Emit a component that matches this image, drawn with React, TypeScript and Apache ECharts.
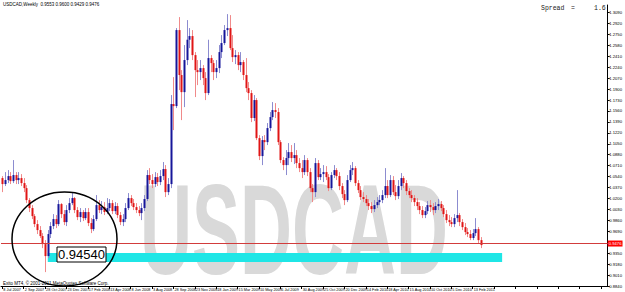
import React, { useEffect, useRef } from 'react';
import * as echarts from 'echarts';

const symbolName = 'USDCAD';
const timeframe = 'Weekly';
const firstOpen = 1.0517;
const closes = [
  1.0424, 1.0486, 1.0548, 1.0470, 1.0564, 1.0486, 1.0517, 1.0439, 1.0361, 1.0175,
  1.0051, 0.9926, 0.9802, 0.9709, 0.9616, 0.9491, 0.9305, 0.9647, 0.9771, 0.9880,
  0.9802, 1.0113, 0.9957, 0.9833, 1.0020, 1.0128, 1.0206, 1.0020, 0.9911, 0.9989,
  0.9895, 0.9989, 0.9818, 0.9724, 0.9880, 1.0097, 1.0020, 1.0066, 0.9989, 1.0051,
  1.0128, 1.0004, 1.0082, 0.9942, 0.9833, 0.9880, 1.0051, 1.0206, 1.0128, 1.0066,
  1.0020, 0.9973, 1.0051, 1.0191, 1.0564, 1.0486, 1.0424, 1.0532, 1.0455, 1.0548,
  1.0657, 1.0299, 1.0424, 1.1667, 1.1636, 1.2817, 1.2118, 1.1853, 1.2351, 1.2667,
  1.2724, 1.2428, 1.2195, 1.2164, 1.2226, 1.2071, 1.1838, 1.2382, 1.2304, 1.2164,
  1.2226, 1.2475, 1.2615, 1.2817, 1.2848, 1.2537, 1.2397, 1.2428, 1.2273, 1.2320,
  1.2118, 1.1915, 1.1838, 1.1450, 1.1729, 1.1138, 1.0859, 1.1107, 1.1076, 1.1294,
  1.1465, 1.1574, 1.1543, 1.1076, 1.0797, 1.0719, 1.0828, 1.0921, 1.0828, 1.0874,
  1.0750, 1.0672, 1.0610, 1.0797, 1.0610, 1.0361, 1.0299, 1.0750, 1.0532, 1.0579,
  1.0610, 1.0532, 1.0361, 1.0564, 1.0641, 1.0548, 1.0393, 1.0268, 1.0175, 1.0486,
  1.0641, 1.0672, 1.0439, 1.0330, 1.0222, 1.0191, 1.0128, 1.0082, 1.0035, 1.0097,
  1.0144, 1.0175, 1.0253, 1.0393, 1.0253, 1.0486, 1.0299, 1.0237, 1.0393, 1.0517,
  1.0439, 1.0315, 1.0253, 1.0206, 1.0144, 1.0082, 1.0020, 0.9942, 1.0004, 1.0097,
  1.0066, 1.0020, 1.0082, 1.0113, 1.0051, 0.9957, 0.9864, 0.9833, 0.9802, 0.9895,
  0.9942, 0.9833, 0.9755, 0.9678, 0.9647, 0.9585, 0.9662, 0.9724, 0.9553, 0.9476,
];
const highs = [
  1.0548, 1.0610, 1.0641, 1.0610, 1.0797, 1.0610, 1.0610, 1.0579, 1.0517, 1.0408,
  1.0206, 1.0097, 0.9957, 0.9864, 0.9771, 0.9662, 0.9553, 0.9709, 0.9833, 0.9957,
  0.9942, 1.0175, 1.0128, 1.0020, 1.0097, 1.0206, 1.0284, 1.0222, 1.0066, 1.0051,
  1.0020, 1.0051, 1.0051, 0.9895, 0.9942, 1.0253, 1.0175, 1.0160, 1.0144, 1.0206,
  1.0191, 1.0175, 1.0144, 1.0128, 0.9989, 0.9957, 1.0128, 1.0284, 1.0253, 1.0191,
  1.0128, 1.0082, 1.0128, 1.0253, 1.0641, 1.0672, 1.0579, 1.0610, 1.0595, 1.0641,
  1.0766, 1.0719, 1.0517, 1.1807, 1.2086, 1.2848, 1.3019, 1.2195, 1.2584, 1.2972,
  1.2848, 1.2817, 1.2475, 1.2351, 1.2351, 1.2273, 1.2164, 1.2667, 1.2428, 1.2351,
  1.2351, 1.2584, 1.2739, 1.2895, 1.3065, 1.3050, 1.2739, 1.2506, 1.2475, 1.2475,
  1.2351, 1.2382, 1.2009, 1.1884, 1.1807, 1.1760, 1.1185, 1.1170, 1.1185, 1.1372,
  1.1543, 1.1698, 1.1682, 1.1605, 1.1107, 1.0843, 1.0952, 1.1061, 1.1030, 1.1061,
  1.0952, 1.0828, 1.0797, 1.0874, 1.0828, 1.0672, 1.0424, 1.0828, 1.0797, 1.0672,
  1.0719, 1.0703, 1.0579, 1.0610, 1.0719, 1.0672, 1.0610, 1.0439, 1.0330, 1.0564,
  1.0719, 1.0766, 1.0703, 1.0486, 1.0393, 1.0299, 1.0253, 1.0191, 1.0144, 1.0175,
  1.0222, 1.0253, 1.0330, 1.0672, 1.0486, 1.0564, 1.0548, 1.0408, 1.0486, 1.0595,
  1.0548, 1.0486, 1.0361, 1.0330, 1.0253, 1.0206, 1.0144, 1.0082, 1.0066, 1.0160,
  1.0175, 1.0128, 1.0144, 1.0191, 1.0160, 1.0097, 1.0020, 0.9942, 0.9911, 0.9957,
  1.0330, 0.9973, 0.9880, 0.9818, 0.9740, 0.9709, 0.9724, 0.9895, 0.9755, 0.9600,
];
const lows = [
  1.0299, 1.0393, 1.0439, 1.0424, 1.0439, 1.0424, 1.0424, 1.0393, 1.0299, 1.0128,
  0.9989, 0.9880, 0.9755, 0.9647, 0.9585, 0.9429, 0.9056, 0.9274, 0.9585, 0.9724,
  0.9740, 0.9771, 0.9895, 0.9786, 0.9771, 0.9973, 1.0097, 0.9973, 0.9864, 0.9833,
  0.9849, 0.9864, 0.9771, 0.9662, 0.9693, 0.9849, 0.9973, 0.9957, 0.9942, 0.9957,
  1.0004, 0.9957, 0.9957, 0.9895, 0.9786, 0.9771, 0.9833, 1.0020, 1.0082, 1.0020,
  0.9973, 0.9926, 0.9864, 1.0004, 1.0160, 1.0424, 1.0361, 1.0377, 1.0393, 1.0408,
  1.0486, 1.0222, 1.0253, 1.0361, 1.1263, 1.1605, 1.1884, 1.1418, 1.1620, 1.2273,
  1.2537, 1.2351, 1.1776, 1.1962, 1.2040, 1.1962, 1.1729, 1.1807, 1.2164, 1.2040,
  1.2071, 1.2149, 1.2382, 1.2584, 1.2724, 1.2506, 1.2320, 1.2288, 1.2195, 1.2164,
  1.2040, 1.1853, 1.1729, 1.1387, 1.1403, 1.1107, 1.0797, 1.0719, 1.0952, 1.1030,
  1.1247, 1.1418, 1.1450, 1.1030, 1.0750, 1.0641, 1.0564, 1.0719, 1.0766, 1.0735,
  1.0672, 1.0610, 1.0517, 1.0564, 1.0548, 1.0299, 1.0144, 1.0222, 1.0486, 1.0486,
  1.0455, 1.0486, 1.0315, 1.0330, 1.0517, 1.0486, 1.0330, 1.0206, 1.0097, 1.0144,
  1.0455, 1.0564, 1.0393, 1.0284, 1.0175, 1.0144, 1.0082, 1.0020, 0.9973, 0.9989,
  1.0051, 1.0097, 1.0128, 1.0206, 1.0206, 1.0222, 1.0253, 1.0175, 1.0191, 1.0330,
  1.0361, 1.0253, 1.0206, 1.0144, 1.0082, 1.0020, 0.9957, 0.9895, 0.9895, 0.9957,
  0.9989, 0.9942, 0.9973, 1.0020, 1.0004, 0.9911, 0.9818, 0.9771, 0.9755, 0.9755,
  0.9833, 0.9771, 0.9709, 0.9631, 0.9600, 0.9553, 0.9553, 0.9616, 0.9507, 0.9429,
];
const tickLabels = [
  '8 Jul 2007', '2 Sep 2007', '28 Oct 2007', '23 Dec 2007', '17 Feb 2008', '13 Apr 2008',
  '8 Jun 2008', '3 Aug 2008', '28 Sep 2008', '23 Nov 2008', '18 Jan 2009', '15 Mar 2009',
  '10 May 2009', '5 Jul 2009', '30 Aug 2009', '25 Oct 2009', '20 Dec 2009', '14 Feb 2010',
  '18 Apr 2010', '15 Aug 2010', '10 Oct 2010', '5 Dec 2010', '13 Feb 2011',
];
const labelEvery = 8;
const totalSlots = 227;
const priceMin = 0.884;
const priceMax = 1.32067;
const priceStep = 0.017;
const targetText = '0.94540';
const targetBand = [0.9352, 0.9212];
const bandBars = ['17', '187'];
const spreadValue = '1.6';
const footer = 'Exito MT4, \u00a9 2001-2011 MetaQuotes Software Corp.';

export default function App() {
  const ref = useRef<HTMLDivElement>(null);
  useEffect(() => {
    document.body.style.margin = '0';
    const chart = echarts.init(ref.current!, null, { renderer: 'svg' });
    const opens = [firstOpen, ...closes.slice(0, -1)];
    const data = closes.map((c, i) => [i, opens[i], c, lows[i], highs[i]]);
    const cats = Array.from({ length: totalSlots }, (_, i) => String(i));
    const n = closes.length - 1;
    const lastPrice = closes[n];
    const header = `${symbolName},${timeframe}  ${opens[n].toFixed(4)} ${highs[n].toFixed(4)} ${lows[n].toFixed(4)} ${closes[n].toFixed(4)}`;

    chart.setOption({
      animation: false,
      backgroundColor: '#ffffff',
      grid: { left: 1, right: 13, top: 5, bottom: 6, containLabel: false },
      xAxis: {
        type: 'category',
        data: cats,
        boundaryGap: true,
        axisLine: { show: true, lineStyle: { color: '#000', width: 1 } },
        axisTick: { show: true, interval: labelEvery - 1, alignWithLabel: true, length: 3, lineStyle: { color: '#000' } },
        axisLabel: {
          interval: labelEvery - 1,
          fontSize: 3.8,
          color: '#000',
          margin: 1.5,
          align: 'left',
          padding: [0, 0, 0, 1],
          fontFamily: 'Liberation Sans',
          formatter: (_v: string, idx: number) => tickLabels[idx / labelEvery] ?? '',
        },
        splitLine: { show: false },
      },
      yAxis: {
        type: 'value',
        position: 'right',
        min: priceMin,
        max: priceMax,
        interval: priceStep,
        axisLine: { show: true, lineStyle: { color: '#000', width: 1 } },
        axisTick: { show: true, length: 2, lineStyle: { color: '#000' } },
        axisLabel: {
          fontSize: 4.2,
          color: '#000',
          margin: 1.5,
          fontFamily: 'Liberation Sans',
          showMaxLabel: false,
          formatter: (v: number) => v.toFixed(4),
        },
        splitLine: { show: false },
      },
      series: [
        {
          type: 'custom',
          z: 3,
          data,
          encode: { x: 0, y: [1, 2, 3, 4] },
          renderItem: (_p: any, api: any) => {
            const i = api.value(0);
            const o = api.value(1);
            const c = api.value(2);
            const l = api.value(3);
            const h = api.value(4);
            const pO = api.coord([i, o]);
            const pC = api.coord([i, c]);
            const pL = api.coord([i, l]);
            const pH = api.coord([i, h]);
            const up = c >= o;
            const x = Math.round(pO[0]);
            const top = Math.min(pO[1], pC[1]);
            const hgt = Math.max(1, Math.abs(pO[1] - pC[1]));
            return {
              type: 'group',
              children: [
                {
                  type: 'line',
                  shape: { x1: x + 0.5, y1: pH[1], x2: x + 0.5, y2: pL[1] },
                  style: { stroke: up ? '#8c8cd0' : '#f08a8a', lineWidth: 1 },
                },
                {
                  type: 'rect',
                  shape: { x: x - 0.5, y: top, width: 2, height: hgt },
                  style: { fill: up ? '#16169a' : '#e01515' },
                },
              ],
            };
          },
        },
        {
          type: 'line',
          data: [],
          z: 2,
          markArea: {
            silent: true,
            itemStyle: { color: '#1fe6e6', opacity: 1 },
            data: [[{ xAxis: bandBars[0], yAxis: targetBand[0] }, { xAxis: bandBars[1], yAxis: targetBand[1] }]],
          },
          markLine: {
            silent: true,
            symbol: ['none', 'none'],
            data: [{ yAxis: lastPrice }],
            lineStyle: { color: '#d23c3c', width: 1, type: 'solid', opacity: 1 },
            label: {
              position: 'end',
              formatter: lastPrice.toFixed(4),
              backgroundColor: '#ff0000',
              color: '#ffffff',
              fontSize: 4.2,
              padding: [1, 1, 1, 1],
              distance: 0,
              fontFamily: 'Liberation Sans',
            },
          },
        },
      ],
      graphic: [
        {
          type: 'text',
          x: 140,
          y: 230,
          scaleY: 1.78,
          z: 0,
          silent: true,
          style: {
            text: symbolName,
            fill: '#d9d9d9',
            font: 'bold 72px "Liberation Sans"',
            lineHeight: 58,
            textVerticalAlign: 'middle',
          },
        },
        {
          type: 'text',
          x: 3,
          y: 2,
          z: 100,
          style: { text: header, fill: '#000', font: '4.5px "Liberation Sans"', textVerticalAlign: 'top' },
        },
        {
          type: 'text',
          x: 541,
          y: 5,
          z: 100,
          style: { text: 'Spread', fill: '#222', font: '6.5px "Liberation Mono"', textVerticalAlign: 'top' },
        },
        {
          type: 'text',
          x: 571,
          y: 5,
          z: 100,
          style: { text: '=', fill: '#222', font: '6.5px "Liberation Mono"', textVerticalAlign: 'top' },
        },
        {
          type: 'text',
          x: 594,
          y: 5,
          z: 100,
          style: { text: spreadValue, fill: '#222', font: '6.5px "Liberation Mono"', textVerticalAlign: 'top' },
        },
        {
          type: 'text',
          x: 3,
          y: 281,
          z: 100,
          style: { text: footer, fill: '#000', font: '4.5px "Liberation Sans"', textVerticalAlign: 'top' },
        },
        {
          type: 'ellipse',
          z: 100,
          shape: { cx: 64.5, cy: 239, rx: 52.5, ry: 47 },
          style: { fill: 'none', stroke: '#000', lineWidth: 1.5 },
        },
        {
          type: 'rect',
          z: 101,
          shape: { x: 57, y: 247, width: 49, height: 15 },
          style: { fill: '#ffffff', stroke: '#000', lineWidth: 1 },
        },
        {
          type: 'text',
          z: 102,
          x: 81.5,
          y: 254.5,
          style: {
            text: targetText,
            fill: '#000',
            font: '13px "Liberation Sans"',
            textAlign: 'center',
            textVerticalAlign: 'middle',
          },
        },
      ],
    });
    return () => chart.dispose();
  }, []);
  return <div ref={ref} style={{ width: 625, height: 292, position: 'absolute', left: 0, top: 0 }} />;
}
